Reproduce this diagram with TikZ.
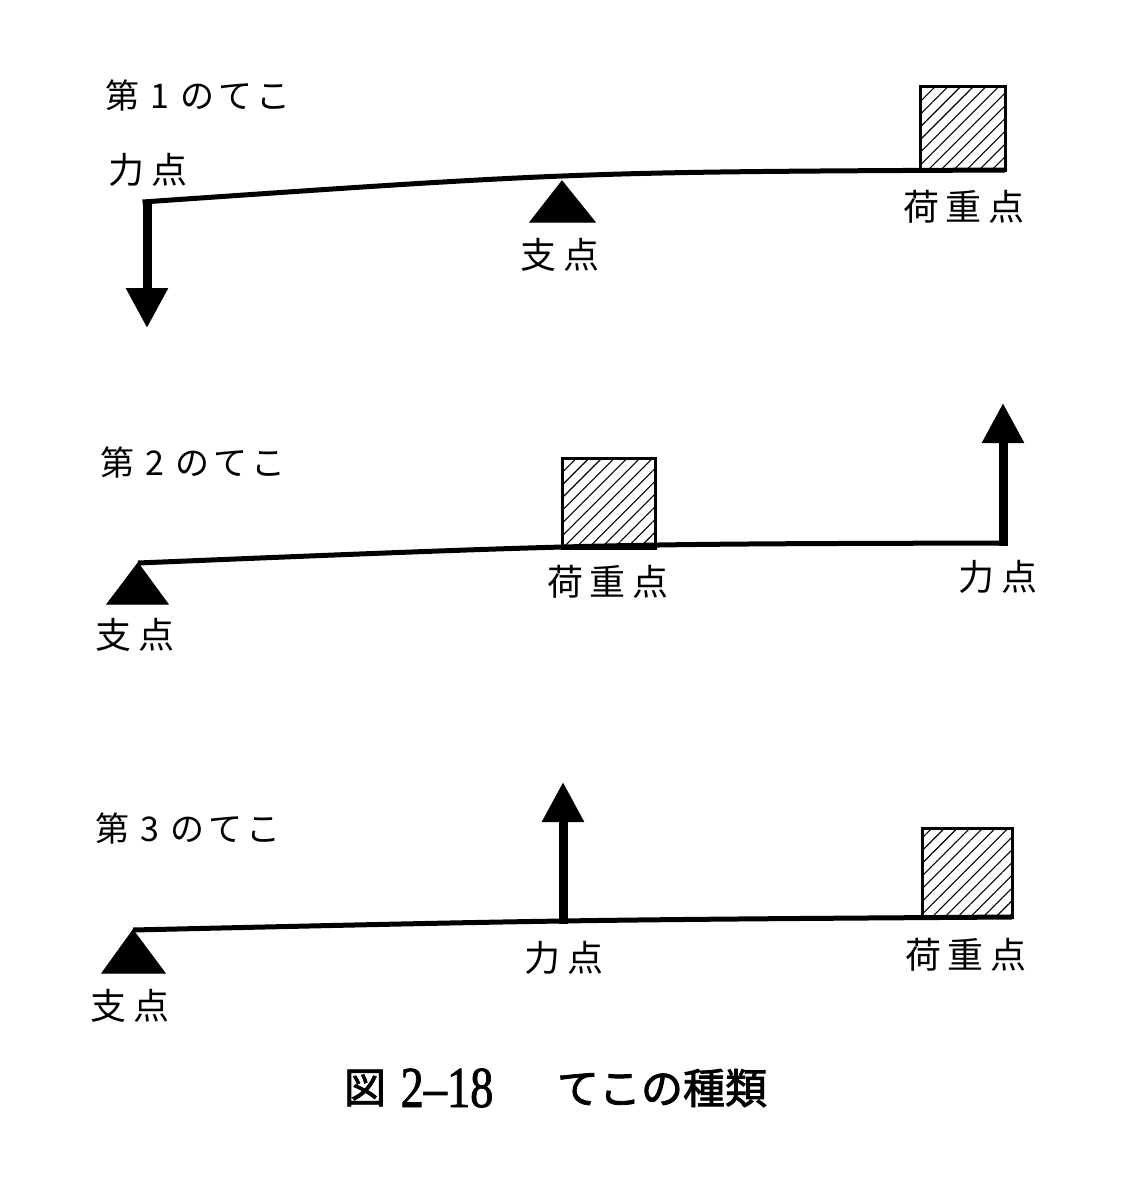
\documentclass[tikz,border=0pt]{standalone}
\usepackage{fontspec}
\usepackage{graphicx}
\newfontfamily\cjk{Noto Sans CJK JP}
\newfontfamily\cjkb[FakeBold=2]{Noto Sans CJK JP}
\newfontfamily\capnum[FakeBold=1.5]{Liberation Serif}
\usetikzlibrary{arrows.meta,patterns.meta}
\newcommand\lgapx{\hspace{7pt}}
\begin{document}
\begin{tikzpicture}[x=1pt,y=-1pt,
  lbl/.style={font=\cjk\fontsize{36}{40}\selectfont, inner sep=0pt},
  ttl/.style={font=\cjk\fontsize{34}{38}\selectfont, inner sep=0pt, anchor=west},
  lever/.style={line width=5pt},
  force/.style={line width=9pt, -{Triangle[width=40pt,length=40pt]}},
  fulcrum/.style={fill=black, draw=black, line width=1pt, line join=miter},
  load/.style={draw=black, line width=3pt, pattern={Lines[angle=45,distance=9pt,line width=1.1pt]}}
]
\useasboundingbox[fill=white] (0,0) rectangle (1139,1200);

% ---------- lever 1 ----------
\coordinate (L1a) at (142.5,202);
\coordinate (L1b) at (1005,170);
\coordinate (A1s) at (147,199.5);
\coordinate (A1t) at (147,328);
\draw[lever] (L1a) .. controls (576,172) .. (L1b);
\draw[force] (A1s) -- (A1t);
\draw[fulcrum] (562,181) coordinate (P1) -- (530,222) -- (595,222) -- cycle;
\draw[load] (920,86) rectangle (1005,170);
\node[ttl] (T1) at (105,95) {第\hspace{11pt}1\hspace{11pt}の\hspace{4pt}て\hspace{4pt}こ};
\node[lbl] (F1) at (148,170) {力\lgapx 点};
\node[lbl] (S1) at (560,255) {支\lgapx 点};
\node[lbl] (W1) at (964,207) {荷\lgapx 重\lgapx 点};

% ---------- lever 2 ----------
\coordinate (L2a) at (138,563);
\coordinate (L2b) at (1007.5,543);
\coordinate (A2s) at (1003,545.5);
\coordinate (A2t) at (1003,403);
\draw[lever] (L2a) .. controls (600,544) .. (L2b);
\draw[force] (A2s) -- (A2t);
\draw[fulcrum] (138,563) coordinate (P2) -- (107,604) -- (168,604) -- cycle;
\draw[load] (562,458) rectangle (655,548);
\node[ttl] (T2) at (100,462) {第\hspace{11pt}2\hspace{11pt}の\hspace{4pt}て\hspace{4pt}こ};
\node[lbl] (S2) at (135,635) {支\lgapx 点};
\node[lbl] (W2) at (608,582) {荷\lgapx 重\lgapx 点};
\node[lbl] (F2) at (998,577) {力\lgapx 点};

% ---------- lever 3 ----------
\coordinate (L3a) at (133,930);
\coordinate (L3b) at (1012,917);
\coordinate (A3s) at (563,924);
\coordinate (A3t) at (563,782);
\draw[lever] (L3a) .. controls (570,920) .. (L3b);
\draw[force] (A3s) -- (A3t);
\draw[fulcrum] (133,930) coordinate (P3) -- (102,973) -- (165,973) -- cycle;
\draw[load] (922,828) rectangle (1012,917);
\node[ttl] (T3) at (95,828) {第\hspace{11pt}3\hspace{11pt}の\hspace{4pt}て\hspace{4pt}こ};
\node[lbl] (S3) at (130,1006) {支\lgapx 点};
\node[lbl] (F3) at (564,958) {力\lgapx 点};
\node[lbl] (W3) at (966,955) {荷\lgapx 重\lgapx 点};

% ---------- caption ----------
\node[inner sep=0pt, font=\cjkb\fontsize{42}{46}\selectfont] (C1) at (365,1088) {図};
\node[inner sep=0pt, font=\capnum\fontsize{58}{60}\selectfont] (C2) at (447,1088) {\scalebox{0.8}[1]{2–18}};
\node[inner sep=0pt, font=\cjkb\fontsize{42}{46}\selectfont] (C3) at (662,1088) {てこの種類};
\end{tikzpicture}
\end{document}
